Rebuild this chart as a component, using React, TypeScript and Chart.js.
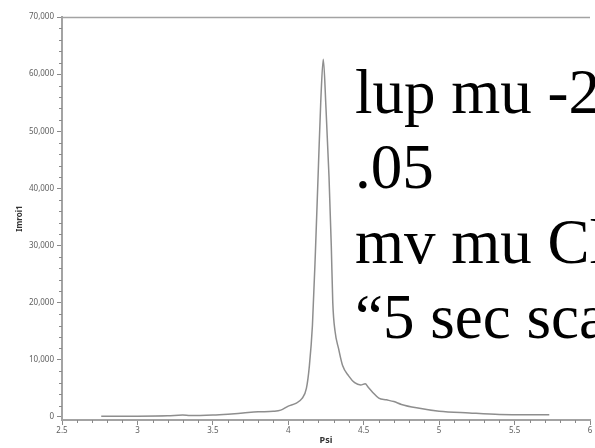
import React, { useEffect, useRef } from "react";
import { Chart, registerables } from "chart.js";

Chart.register(...registerables);

const psi: number[] = [2.76, 3.0, 3.2, 3.3, 3.35, 3.5, 3.6, 3.7, 3.8, 3.9, 3.95, 4.0, 4.05, 4.09, 4.12, 4.14, 4.16, 4.18, 4.2, 4.215, 4.232, 4.25, 4.27, 4.285, 4.295, 4.31, 4.333, 4.36, 4.4, 4.44, 4.48, 4.51, 4.53, 4.56, 4.6, 4.65, 4.7, 4.75, 4.85, 5.0, 5.2, 5.4, 5.6, 5.73];
const imroi1: number[] = [150, 150, 200, 350, 250, 350, 500, 700, 900, 1000, 1200, 1900, 2400, 3200, 5000, 9000, 16000, 29000, 44000, 55000, 62600, 54000, 42000, 30000, 20000, 15000, 12000, 9000, 7200, 6000, 5600, 5800, 5200, 4300, 3300, 3000, 2700, 2200, 1600, 1000, 700, 450, 400, 400];

const xTicks: number[] = [2.5, 3, 3.5, 4, 4.5, 5, 5.5, 6];
const yTicks: number[] = [0, 10000, 20000, 30000, 40000, 50000, 60000, 70000];
const xTitle = "Psi";
const yTitle = "Imroi1";
const overlayLines: string[] = ["lup mu -2", ".05", "mv mu Cl", "\u201C5 sec scan\u201D"];

const AXIS = "#a3a3a3";
const TICKC = "#8a8a8a";
const LABEL = "#5e5e5e";

const minorTicks = {
  id: "minorTicks",
  afterDraw(chart: any) {
    const ctx = chart.ctx;
    const xs = chart.scales.x;
    const ys = chart.scales.y;
    const ca = chart.chartArea;
    ctx.save();
    ctx.beginPath();
    ctx.strokeStyle = AXIS;
    ctx.lineWidth = 1.5;
    ctx.moveTo(ca.left, ca.top + 0.5);
    ctx.lineTo(ca.right, ca.top + 0.5);
    ctx.stroke();
    ctx.strokeStyle = TICKC;
    ctx.lineWidth = 1;
    ctx.beginPath();
    for (let i = 26; i < 60; i++) {
      if (i % 5 === 0) continue;
      const px = Math.round(xs.getPixelForValue(i / 10)) + 0.5;
      ctx.moveTo(px, ca.bottom);
      ctx.lineTo(px, ca.bottom + 3);
    }
    for (let v = 2000; v < 70000; v += 2000) {
      if (v % 10000 === 0) continue;
      const py = Math.round(ys.getPixelForValue(v)) + 0.5;
      ctx.moveTo(ca.left - 3, py);
      ctx.lineTo(ca.left, py);
    }
    ctx.stroke();
    ctx.restore();
  },
};

export default function App() {
  const ref = useRef<HTMLCanvasElement | null>(null);
  useEffect(() => {
    if (!ref.current) return;
    const chart = new Chart(ref.current, {
      type: "line",
      data: {
        datasets: [
          {
            data: psi.map((x, i) => ({ x, y: imroi1[i] })),
            borderColor: "#8e8e8e",
            borderWidth: 1.5,
            pointRadius: 0,
            cubicInterpolationMode: "monotone",
            fill: false,
          },
        ],
      },
      options: {
        animation: false,
        responsive: false,
        devicePixelRatio: 1,
        layout: { padding: { top: 17, right: 5, left: 0, bottom: 0 } },
        plugins: { legend: { display: false }, tooltip: { enabled: false } },
        scales: {
          x: {
            type: "linear",
            min: 2.5,
            max: 6,
            afterBuildTicks: (s: any) => {
              s.ticks = xTicks.map((v) => ({ value: v }));
            },
            afterFit: (s: any) => {
              s.height = 28;
            },
            border: { display: true, color: AXIS, width: 2 },
            grid: { drawOnChartArea: false, drawTicks: true, tickLength: 5, tickColor: TICKC },
            ticks: {
              padding: 1,
              color: LABEL,
              maxRotation: 0,
              autoSkip: false,
              font: { family: "Noto Sans", size: 8 },
              callback: (v: any) => String(v),
            },
            title: {
              display: true,
              text: xTitle,
              color: "#333333",
              font: { family: "Noto Sans", size: 9, weight: "bold" },
              padding: { top: 0, bottom: 2 },
            },
          },
          y: {
            type: "linear",
            min: -526,
            max: 70000,
            afterBuildTicks: (s: any) => {
              s.ticks = yTicks.map((v) => ({ value: v }));
            },
            afterFit: (s: any) => {
              s.width = 62;
            },
            border: { display: true, color: AXIS, width: 2 },
            grid: { drawOnChartArea: false, drawTicks: true, tickLength: 5, tickColor: TICKC },
            ticks: {
              padding: 3,
              color: LABEL,
              autoSkip: false,
              font: { family: "Noto Sans", size: 8 },
            },
            title: {
              display: true,
              text: yTitle,
              color: "#333333",
              font: { family: "Noto Sans", size: 8, weight: "bold" },
              padding: { top: 15, bottom: 0 },
            },
          },
        },
      },
      plugins: [minorTicks],
    } as any);
    return () => chart.destroy();
  }, []);

  return (
    <div
      style={{
        position: "absolute",
        left: 0,
        top: 0,
        width: 595,
        height: 448,
        overflow: "hidden",
        background: "#ffffff",
      }}
    >
      <canvas ref={ref} width={595} height={448} style={{ display: "block", width: 595, height: 448 }} />
      <div
        style={{
          position: "absolute",
          left: 355,
          top: 55,
          fontFamily: "'Liberation Serif', 'Times New Roman', serif",
          fontSize: 63,
          lineHeight: "75px",
          color: "#000000",
          whiteSpace: "pre",
          pointerEvents: "none",
        }}
      >
        {overlayLines.map((l, i) => (
          <div key={i}>{l}</div>
        ))}
      </div>
    </div>
  );
}
